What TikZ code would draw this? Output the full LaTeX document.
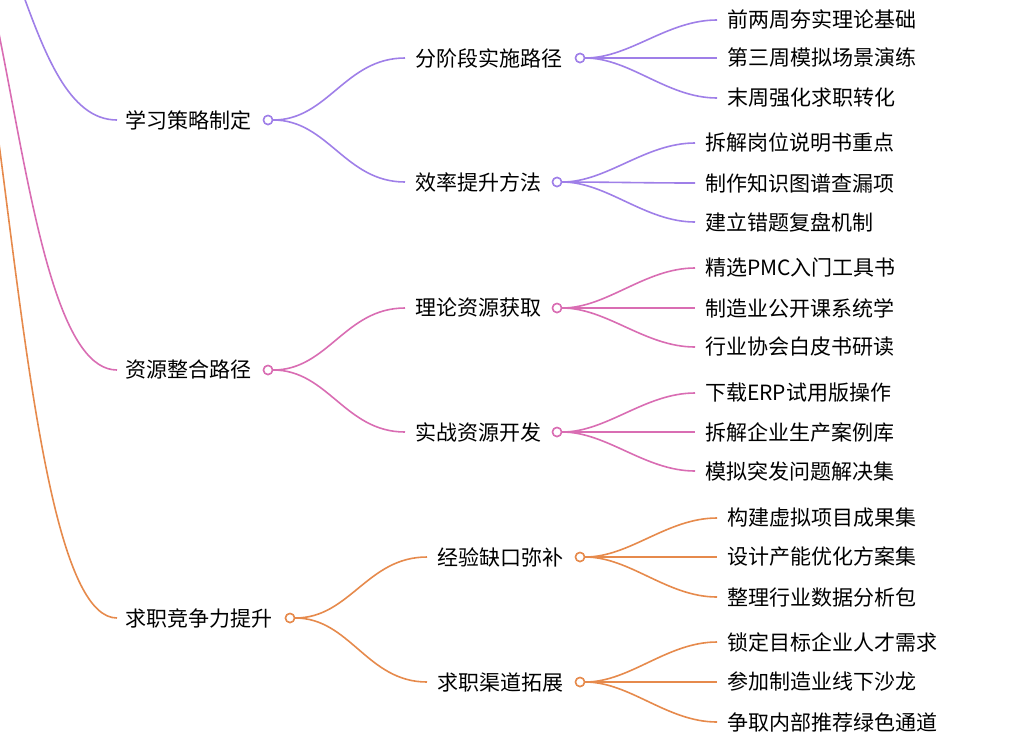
\documentclass[tikz,border=0pt]{standalone}
\usepackage{fontspec}
\setmainfont{Noto Sans CJK SC}
\usetikzlibrary{positioning}
\definecolor{cPurple}{HTML}{9F7FE8}
\definecolor{cPink}{HTML}{D96DB3}
\definecolor{cOrange}{HTML}{E68A4C}
\tikzset{
 lbl/.style={anchor=west,inner xsep=0pt,inner ysep=2pt,font=\fontsize{21}{24}\selectfont},
 knob/.style={circle,draw=#1,fill=white,line width=1.5pt,inner sep=0pt,minimum size=9pt},
 link/.style={draw=#1,line width=1.6pt}
}
\begin{document}
\begin{tikzpicture}[x=1pt,y=-1pt]
 \useasboundingbox (0,0) rectangle (1024,742);
 \clip (0,0) rectangle (1024,742);
 \coordinate (root) at (-80,-150);
 % main branches
 \node[lbl] (b1) at (125,120) {学习策略制定};
 \node[knob=cPurple] (k1) at (268,120) {};
 \node[lbl] (b2) at (125,370) {资源整合路径};
 \node[knob=cPink] (k2) at (268,370) {};
 \node[lbl] (b3) at (125,618) {求职竞争力提升};
 \node[knob=cOrange] (k3) at (290,618) {};
 \draw[link=cPurple] (root) .. controls (20,-150) and (20,120) .. ([xshift=-8]b1.west);
 \draw[link=cPink] (root) .. controls (12,-150) and (12,370) .. ([xshift=-8]b2.west);
 \draw[link=cOrange] (root) .. controls (8,-150) and (8,618) .. ([xshift=-8]b3.west);
 % second level
 \foreach \n/\c/\p/\x/\y/\kx/\t in {
   s1/cPurple/k1/415/58/580/分阶段实施路径,
   s2/cPurple/k1/415/182/557/效率提升方法,
   s3/cPink/k2/415/308/557/理论资源获取,
   s4/cPink/k2/415/432/557/实战资源开发,
   s5/cOrange/k3/437/557/580/经验缺口弥补,
   s6/cOrange/k3/437/682/580/求职渠道拓展}{
   \node[lbl] (\n) at (\x,\y) {\t};
   \draw[link=\c] (\p) .. controls +(60,0) and +(-60,0) .. ([xshift=-10]\n.west);
   \node[knob=\c] (k\n) at (\kx,\y) {};
 }
 % leaves
 \foreach \n/\c/\p/\x/\y/\t in {
   l1/cPurple/ks1/727/20/前两周夯实理论基础,
   l2/cPurple/ks1/727/58/第三周模拟场景演练,
   l3/cPurple/ks1/727/98/末周强化求职转化,
   l4/cPurple/ks2/705/143/拆解岗位说明书重点,
   l5/cPurple/ks2/705/183/制作知识图谱查漏项,
   l6/cPurple/ks2/705/222/建立错题复盘机制,
   l7/cPink/ks3/705/268/精选PMC入门工具书,
   l8/cPink/ks3/705/308/制造业公开课系统学,
   l9/cPink/ks3/705/347/行业协会白皮书研读,
   l10/cPink/ks4/705/393/下载ERP试用版操作,
   l11/cPink/ks4/705/432/拆解企业生产案例库,
   l12/cPink/ks4/705/471/模拟突发问题解决集,
   l13/cOrange/ks5/727/518/构建虚拟项目成果集,
   l14/cOrange/ks5/727/557/设计产能优化方案集,
   l15/cOrange/ks5/727/597/整理行业数据分析包,
   l16/cOrange/ks6/727/642/锁定目标企业人才需求,
   l17/cOrange/ks6/727/682/参加制造业线下沙龙,
   l18/cOrange/ks6/727/722/争取内部推荐绿色通道}{
   \node[lbl] (\n) at (\x,\y) {\t};
   \draw[link=\c] (\p) .. controls +(50,0) and +(-50,0) .. ([xshift=-10]\n.west);
 }
 % redraw knobs on top
 \foreach \n/\c in {k1/cPurple,k2/cPink,k3/cOrange,ks1/cPurple,ks2/cPurple,ks3/cPink,ks4/cPink,ks5/cOrange,ks6/cOrange}
   \node[knob=\c] at (\n) {};
\end{tikzpicture}
\end{document}
